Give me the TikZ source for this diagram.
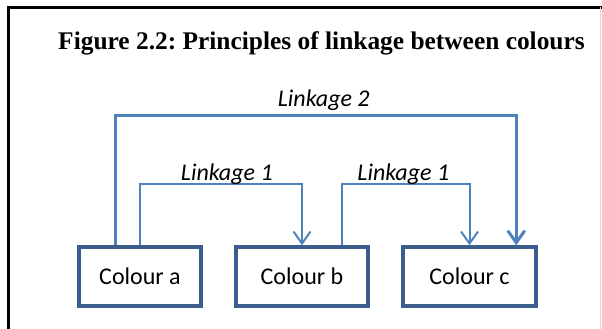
\documentclass[tikz,border=0pt]{standalone}
\usepackage{fontspec}
\setmainfont{Liberation Serif}
\newfontfamily\calfont{Carlito}
\usetikzlibrary{arrows.meta}
\tikzset{>={Straight Barb[length=12pt,width=17pt]}}
\tikzset{colbox/.style={draw=boxblue, line width=3.5pt, minimum height=59pt, font=\calfont\fontsize{24}{28}\selectfont},
  link/.style={draw=linkblue, line width=2pt, ->},
  linklabel/.style={anchor=base, inner sep=0pt, font=\calfont\itshape\fontsize{24}{28}\selectfont}}
\definecolor{boxblue}{HTML}{3B5E8C}
\definecolor{linkblue}{HTML}{4F81BD}

\begin{document}
\frenchspacing
\begin{tikzpicture}[x=1pt, y=-1pt]
    \useasboundingbox (0,0) rectangle (602,329);
    \draw[line width=3pt] (8.5,329) -- (8.5,7.5) -- (602,7.5);
    \draw[gray!30] (600,7.5) -- (600,329);
    \node[anchor=base] (title) at (321.5,50) {\bfseries\fontsize{25.4}{30}\selectfont Figure 2.2: Principles of linkage between colours};
    \node[colbox, minimum width=122pt] (a) at (140,276.5) {Colour a};
    \node[colbox, minimum width=132pt] (b) at (302,276.5) {Colour b};
    \node[colbox, minimum width=133pt] (c) at (469.5,276.5) {Colour c};
    \draw[link, line width=3pt] ([xshift=38]a.north west) -- ++(0,-130) -| node[linklabel, pos=0.26, yshift=9pt] (l2) {Linkage 2} ([xshift=115]c.north west);
    \draw[link] (a.north) -- ++(0,-61) -| node[linklabel, pos=0.268, yshift=4pt] (l1a) {Linkage 1} (b.north);
    \draw[link] ([xshift=108]b.north west) -- ++(0,-61) -| node[linklabel, pos=0.24, yshift=4pt] (l1b) {Linkage 1} (c.north);
\end{tikzpicture}
\end{document}
